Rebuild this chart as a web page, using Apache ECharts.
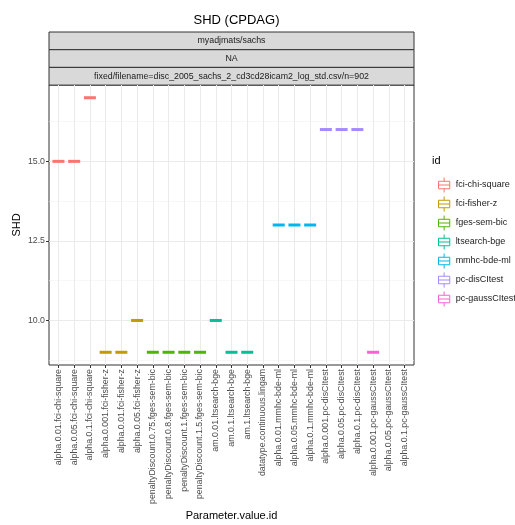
<!DOCTYPE html>
<html>
<head>
<meta charset="utf-8">
<script src="https://cdn.jsdelivr.net/npm/echarts@6/dist/echarts.min.js"></script>
<style>
  html, body { margin: 0; padding: 0; background: #fff; }
  #chart { width: 515px; height: 525px; }
</style>
</head>
<body>
<div id="chart"></div>
<script>
// 类别（x 轴）
const categories = [
  'alpha.0.01.fci-chi-square', 'alpha.0.05.fci-chi-square', 'alpha.0.1.fci-chi-square',
  'alpha.0.001.fci-fisher-z', 'alpha.0.01.fci-fisher-z', 'alpha.0.05.fci-fisher-z',
  'penaltyDiscount.0.75.fges-sem-bic', 'penaltyDiscount.0.8.fges-sem-bic',
  'penaltyDiscount.1.fges-sem-bic', 'penaltyDiscount.1.5.fges-sem-bic',
  'am.0.01.ltsearch-bge', 'am.0.1.ltsearch-bge', 'am.1.ltsearch-bge',
  'datatype.continuous.lingam',
  'alpha.0.01.mmhc-bde-ml', 'alpha.0.05.mmhc-bde-ml', 'alpha.0.1.mmhc-bde-ml',
  'alpha.0.001.pc-disCItest', 'alpha.0.05.pc-disCItest', 'alpha.0.1.pc-disCItest',
  'alpha.0.001.pc-gaussCItest', 'alpha.0.05.pc-gaussCItest', 'alpha.0.1.pc-gaussCItest'
];

// 每个类别属于哪个 id（-1 = 不在图例中）
const catId = [0, 0, 0, 1, 1, 1, 2, 2, 2, 2, 3, 3, 3, -1, 4, 4, 4, 5, 5, 5, 6, 6, 6];

// SHD 值（null = 无数据）
const shd = [15, 15, 17, 9, 9, 10, 9, 9, 9, 9, 10, 9, 9, null, 13, 13, 13, 16, 16, 16, 9, null, null];

const ids = ['fci-chi-square', 'fci-fisher-z', 'fges-sem-bic', 'ltsearch-bge',
  'mmhc-bde-ml', 'pc-disCItest', 'pc-gaussCItest'];
const colors = ['#F8766D', '#C49A00', '#53B400', '#00C094', '#00B6EB', '#A58AFF', '#FB61D7'];

// y 轴刻度
const yMajor = [10, 12.5, 15];
const yMinor = [8.75, 11.25, 13.75, 16.25];

// 分面标签
const strips = ['myadjmats/sachs', 'NA', 'fixed/filename=disc_2005_sachs_2_cd3cd28icam2_log_std.csv/n=902'];

const FONT = 'Liberation Sans, Arial, sans-serif';
const xTicks = categories.map((c, i) => i + 1);

let series = ids.map((name, k) => {
  let data = [];
  shd.forEach((v, i) => {
    if (catId[i] === k && v != null) data.push([i + 1, v]);
  });
  return {
    name,
    type: 'scatter',
    symbol: 'rect',
    symbolSize: [12, 3],
    itemStyle: { color: colors[k], opacity: 1 },
    data
  };
});

// 分面条
let stripGraphics = [];
strips.forEach((s, i) => {
  stripGraphics.push({
    type: 'rect',
    shape: { x: 49, y: 32 + i * 17.7, width: 365, height: 17.7 },
    style: { fill: '#D9D9D9', stroke: '#333333', lineWidth: 1 }
  });
  stripGraphics.push({
    type: 'text',
    x: 231.5, y: 32 + i * 17.7 + 9,
    style: { text: s, fill: '#1A1A1A', font: '8.8px ' + FONT, textAlign: 'center', textVerticalAlign: 'middle' }
  });
});

let myChart = echarts.init(document.getElementById('chart'));
let option = {
  animation: false,
  color: colors,
  title: {
    text: 'SHD (CPDAG)',
    left: 231.5, top: 9, textAlign: 'center',
    textStyle: { fontFamily: FONT, fontSize: 13, fontWeight: 'normal', color: '#000' }
  },
  grid: {
    left: 49, right: 101, top: 85, bottom: 160,
    outerBoundsMode: 'none',
    containLabel: false,
    show: true, borderColor: '#333333', borderWidth: 1, backgroundColor: '#fff'
  },
  legend: {
    orient: 'vertical',
    left: 433, top: 172,
    itemWidth: 13, itemHeight: 15, itemGap: 3,
    icon: 'path://M6,0 L6,4 M0,4 L12,4 L12,12 L0,12 Z M0,8 L12,8 M6,12 L6,16',
    textStyle: { fontFamily: FONT, fontSize: 9, color: '#1A1A1A' },
    data: ids.map((n, k) => ({
      name: n,
      itemStyle: { color: '#fff', borderColor: colors[k], borderWidth: 1 }
    }))
  },
  xAxis: {
    type: 'value',
    min: 0.4, max: 23.6,
    name: 'Parameter.value.id',
    nameLocation: 'middle', nameGap: 145, nameMoveOverlap: false,
    nameTextStyle: { fontFamily: FONT, fontSize: 11, color: '#000' },
    axisLine: { show: false },
    axisTick: { show: true, length: 3, customValues: xTicks, lineStyle: { color: '#333333' } },
    axisLabel: {
      customValues: xTicks, rotate: 90, margin: 4,
      fontFamily: FONT, fontSize: 8.8, color: '#4D4D4D',
      formatter: v => categories[v - 1]
    },
    splitLine: { show: true, lineStyle: { color: '#EBEBEB', width: 1 } }
  },
  yAxis: [
    {
      type: 'value',
      min: 8.6, max: 17.4,
      name: 'SHD',
      nameLocation: 'middle', nameGap: 27, nameRotate: 90, nameMoveOverlap: false,
      nameTextStyle: { fontFamily: FONT, fontSize: 11, color: '#000' },
      axisLine: { show: false },
      axisTick: { show: true, length: 3, customValues: yMajor, lineStyle: { color: '#333333' } },
      axisLabel: {
        customValues: yMajor, margin: 4,
        fontFamily: FONT, fontSize: 8.8, color: '#4D4D4D',
        formatter: v => v.toFixed(1)
      },
      splitLine: { show: true, lineStyle: { color: '#EBEBEB', width: 1 } }
    },
    {
      type: 'value',
      min: 8.6, max: 17.4,
      position: 'left',
      axisLine: { show: false },
      axisTick: { show: false, customValues: yMinor },
      axisLabel: { show: false, customValues: yMinor },
      splitLine: { show: true, lineStyle: { color: '#F2F2F2', width: 0.6 } }
    }
  ],
  graphic: stripGraphics.concat([
    {
      type: 'text',
      left: 432, top: 155,
      style: { text: 'id', fill: '#000', font: '11px ' + FONT }
    }
  ]),
  series
};
myChart.setOption(option);
</script>
</body>
</html>
